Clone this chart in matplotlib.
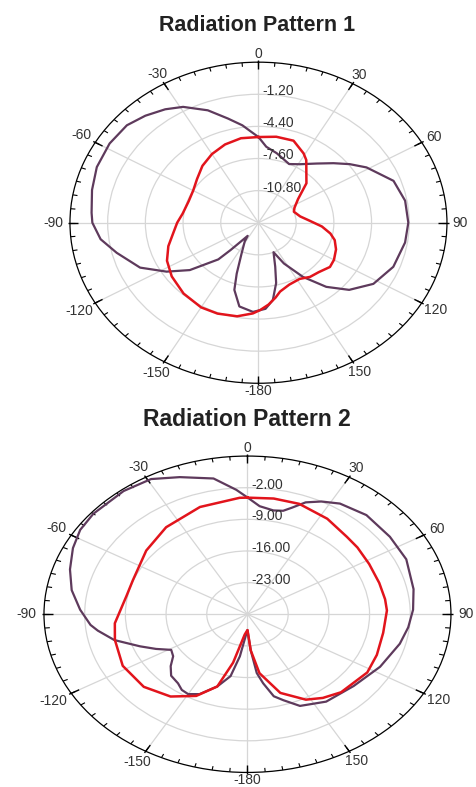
import numpy as np
import matplotlib.pyplot as plt
from matplotlib.transforms import offset_copy

plt.rcParams['font.family'] = ['Liberation Sans', 'DejaVu Sans']

# angles in degrees, clockwise from top; values in dB
p1_dark_deg = [0, 5, 12.6, 24, 31, 40, 47, 53, 59, 70, 80, 90, 99, 111, 122, 131, 138, 145,
               152, 156.5, 162, 166, 171, 176, 183, 191, 197, 200, 205, 212, 215, 221,
               223, 226, 231, 238, 246, 256, 263, 270, 274, 283, 292, 302, 311, 318, 325,
               331, 339, 346, 352, 356, 360]
p1_dark_db = [-5.46, -6.4, -6.9, -7.6, -7.2, -6.3, -5.3, -4.3, -3.3, -1.8, -1.36, -1.28, -1.4,
              -1.74, -2.5, -3.8, -5.4, -7.4, -9.4, -10.8, -9.4, -7.8, -6.2, -5.4, -5.1, -5.5,
              -7.0, -8.6, -10.6, -11.8, -12.4, -10.4, -9.0, -8.3, -6.5, -4.8, -3.0, -1.6,
              -0.5, 0.1, 0.2, 0.5, 0.8, 0.9, 0.8, 0.35, -0.2, -0.8, -2.0, -3.3, -4.2, -4.9, -5.46]

p1_red_deg = [0, 10, 20, 29, 33, 38, 46, 55, 64, 70, 80, 87, 94, 100, 105, 112, 120, 126,
              134, 141, 148, 157, 165, 169, 174, 179, 183, 191, 201, 210, 222, 234, 244,
              253, 262, 270, 278, 290, 300, 310, 320, 330, 340, 350, 360]
p1_red_db = [-5.46, -5.3, -5.3, -6.1, -6.55, -7.4, -8.34, -9.9, -10.6, -10.8, -10.4, -9.7,
             -8.6, -7.8, -7.3, -6.9, -6.6, -6.5, -6.9, -7.05, -7.4, -7.3, -6.9, -6.4, -5.8,
             -5.3, -4.95, -4.5, -4.3, -4.26, -4.5, -4.9, -5.36, -6.0, -6.7, -7.1, -7.5,
             -7.7, -7.6, -7.2, -6.6, -6.1, -5.7, -5.45, -5.46]

p2_dark_deg = [0, 5, 11, 15, 18, 22, 27, 33, 43, 55, 66, 79, 88, 96, 104, 117, 131, 145,
               156, 162, 166, 170, 173, 176, 180, 184, 188, 192, 198, 205, 210, 214, 218,
               224, 229, 234, 239, 244, 249, 256, 262, 265, 272, 280, 288, 296, 303, 310,
               322, 331, 339, 349, 356, 360]
p2_dark_db = [-4.16, -6.0, -6.6, -6.3, -5.2, -3.3, -2.0, -0.8, 0.0, -0.1, -0.1, -0.9, -1.5,
              -2.2, -3.0, -4.4, -5.8, -6.4, -7.8, -10.0, -11.3, -14.5, -16.9, -22.0, -26.5,
              -25.0, -20.6, -16.0, -13.2, -10.5, -9.6, -9.8, -10.6, -11.1, -12.5, -14.2,
              -14.7, -12.5, -10.2, -6.4, -4.0, -2.9, -1.2, 0.7, 2.1, 3.4, 4.3, 4.6, 4.6,
              4.2, 2.5, 0.6, -2.4, -4.16]

p2_red_deg = [0, 10, 20, 33, 45, 52, 62, 73, 82, 88, 100, 112, 122, 137, 145, 152, 162,
              171, 176, 180, 186, 193, 198, 206, 216, 228, 242, 256, 265, 281, 291, 309,
              324, 341, 357, 360]
p2_red_db = [-4.2, -4.0, -4.0, -4.8, -5.8, -6.0, -6.3, -6.3, -6.1, -6.0, -6.3, -6.0, -5.7,
             -6.4, -7.4, -8.6, -11.7, -16.8, -22.0, -26.5, -25.5, -19.0, -13.2, -9.9, -7.5,
             -6.0, -5.7, -6.5, -7.1, -8.8, -8.9, -7.6, -6.2, -4.9, -4.2, -4.2]

angle_ticks = [0, 30, 60, 90, 120, 150, 180, 210, 240, 270, 300, 330]
angle_labels = ['0', '30', '60', '90', '120', '150', '-180', '-150', '-120', '-90', '-60', '-30']

p1_rings = [-10.8, -7.6, -4.4, -1.2]
p1_ring_labels = ['-10.80', '-7.60', '-4.40', '-1.20']
p2_rings = [-23, -16, -9, -2]
p2_ring_labels = ['-23.00', '-16.00', '-9.00', '-2.00']

DARK = '#5e3a5c'
RED = '#e2141c'
TXT = '#333333'


def setup(ax, lims, rings, ring_labels):
    ax.set_theta_zero_location('N')
    ax.set_theta_direction(-1)
    ax.set_ylim(*lims)
    ax.set_thetagrids(angle_ticks, [''] * len(angle_ticks))
    ax.set_rgrids(rings, [''] * len(rings))
    ax.grid(color='#d6d6d6', lw=0.9)
    ax.spines['polar'].set_color('black')
    ax.spines['polar'].set_linewidth(0.9)
    ax.set_aspect('auto')

    # ticks on the outer rim, pointing inward
    lo, hi = lims
    span = hi - lo
    minor = np.deg2rad(np.arange(0, 360, 5))
    ax.vlines(minor, hi - 0.025 * span, hi, colors='black', lw=0.8)
    ax.vlines(np.deg2rad(angle_ticks), hi - 0.045 * span, hi + 0.012 * span,
              colors='black', lw=1.0, clip_on=False)

    # angle labels around the ellipse
    for a, lab in zip(angle_ticks, angle_labels):
        s, c = np.sin(np.deg2rad(a)), np.cos(np.deg2rad(a))
        rr = 1.04 + 0.016 * len(lab) * abs(s) + 0.01 * abs(c)
        ax.text(0.5 + 0.5 * rr * s, 0.5 + 0.5 * rr * c, lab, transform=ax.transAxes,
                ha='center', va='center', fontsize=10, color=TXT)

    # ring labels along the 0 deg spoke
    tr = offset_copy(ax.transData, fig=ax.figure, x=2.5, y=2.2, units='points')
    for r, lab in zip(rings, ring_labels):
        ax.text(0, r, lab, transform=tr, ha='left', va='center', fontsize=10, color=TXT)


fig = plt.figure(figsize=(4.76, 7.87), dpi=100)

ax1 = fig.add_axes([0.147, 0.513, 0.792, 0.408], projection='polar')
setup(ax1, (-14, 2), p1_rings, p1_ring_labels)
ax1.plot(np.deg2rad(p1_dark_deg), p1_dark_db, color=DARK, lw=1.6)
ax1.plot(np.deg2rad(p1_red_deg), p1_red_db, color=RED, lw=1.8)

ax2 = fig.add_axes([0.0924, 0.0185, 0.855, 0.402], projection='polar')
setup(ax2, (-30, 5), p2_rings, p2_ring_labels)
ax2.plot(np.deg2rad(p2_dark_deg), p2_dark_db, color=DARK, lw=1.6)
ax2.plot(np.deg2rad(p2_red_deg), p2_red_db, color=RED, lw=1.8)

fig.text(0.540, 0.968, 'Radiation Pattern 1', ha='center', va='center', fontsize=15.5,
         fontweight='bold', color='#222222')
fig.text(0.519, 0.467, 'Radiation Pattern 2', ha='center', va='center', fontsize=16.5,
         fontweight='bold', color='#222222')

plt.savefig('out.png', dpi=100)
